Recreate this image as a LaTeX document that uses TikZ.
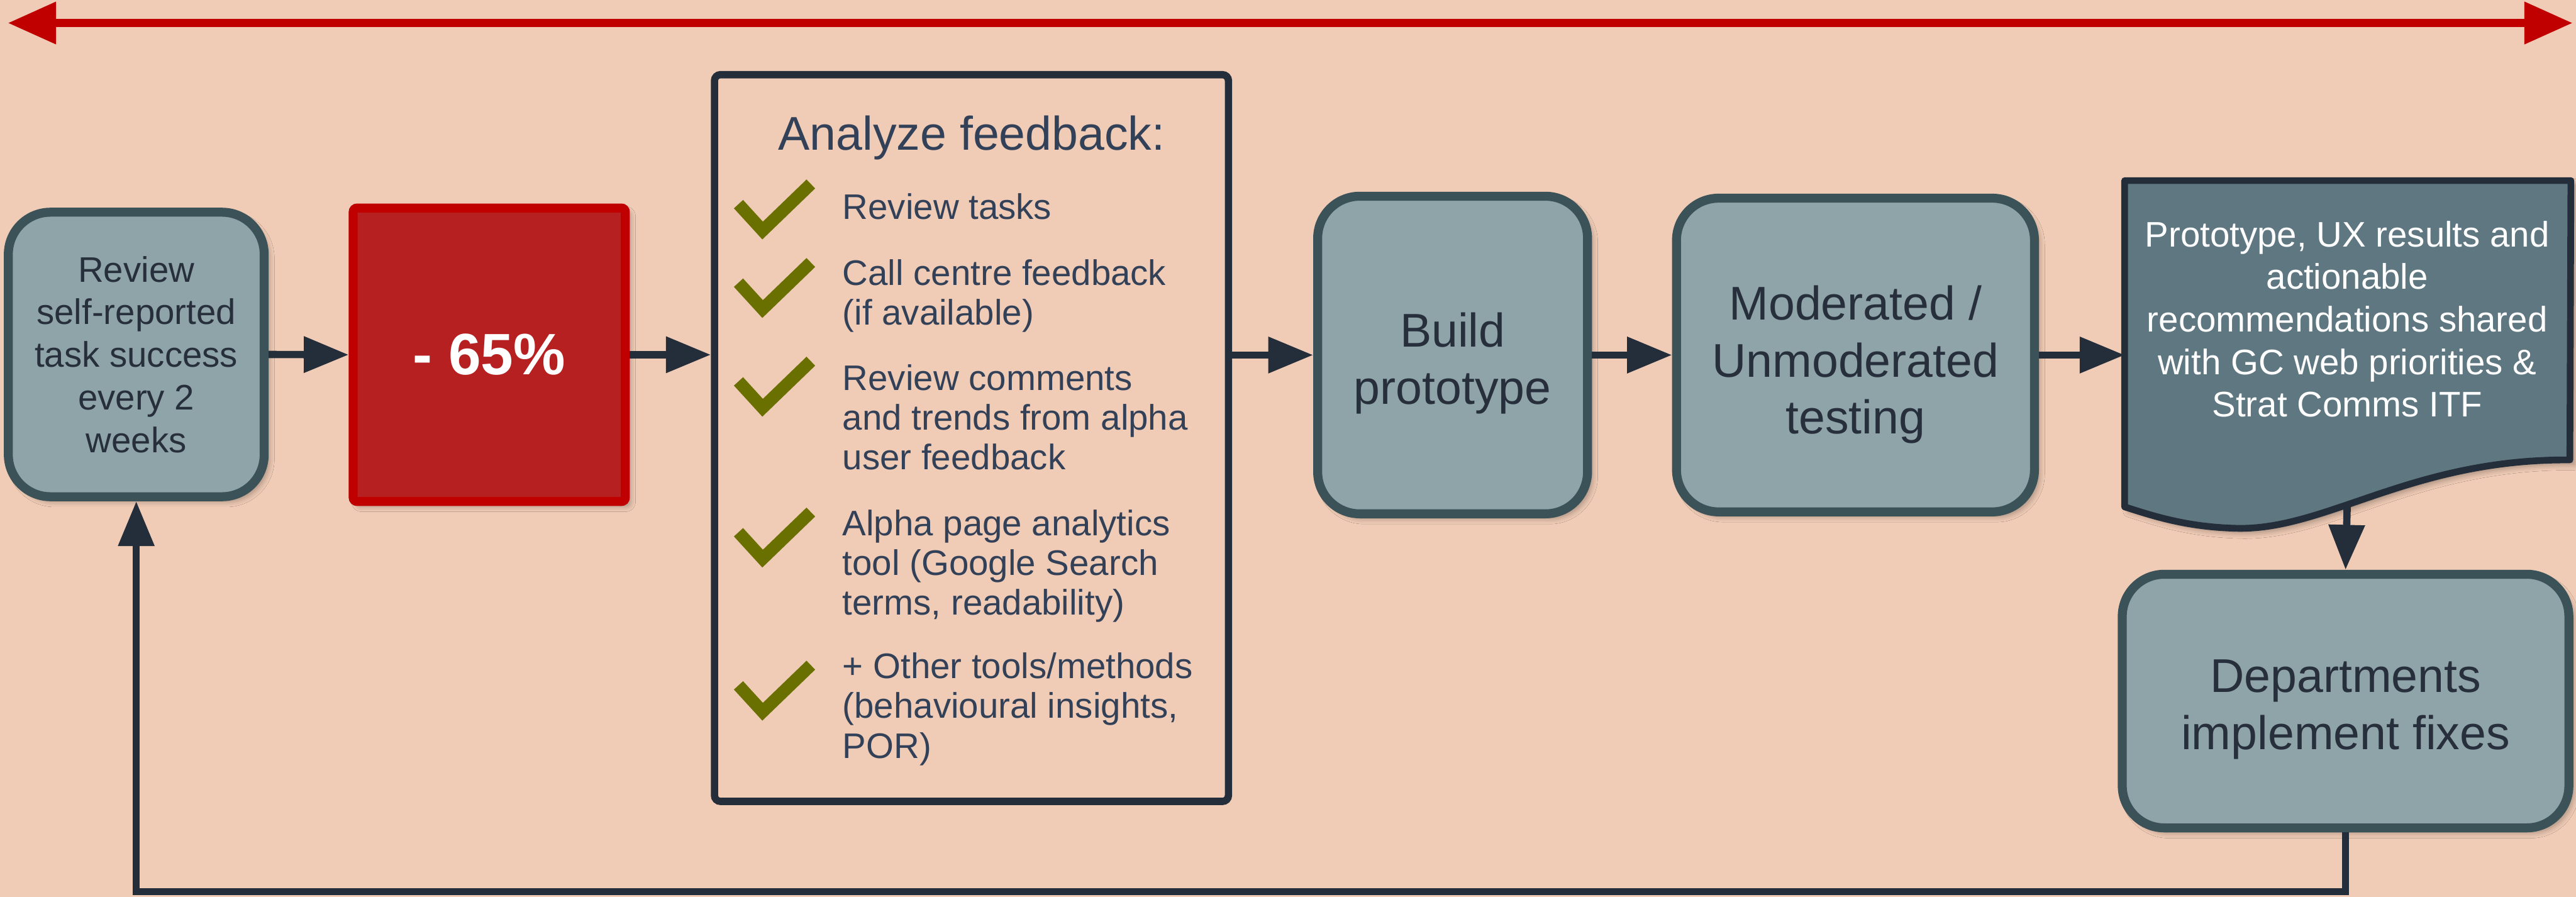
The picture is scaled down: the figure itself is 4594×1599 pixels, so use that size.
\documentclass[tikz,border=0pt]{standalone}
\usepackage{fontspec}
\setmainfont{Liberation Sans}
\usetikzlibrary{arrows.meta,shadows.blur}

\definecolor{bgpeach}{HTML}{F0CCB6}
\definecolor{stepfill}{HTML}{8FA4A8}
\definecolor{stepline}{HTML}{3C5259}
\definecolor{steptext}{HTML}{262F3B}
\definecolor{ink}{HTML}{242E3B}
\definecolor{listtext}{HTML}{334158}
\definecolor{alertfill}{HTML}{B72020}
\definecolor{alertline}{HTML}{C00000}
\definecolor{tickgreen}{HTML}{6A7000}
\definecolor{docfill}{HTML}{5F7781}

\tikzset{
  softshadow/.style={blur shadow={shadow xshift=2.2pt, shadow yshift=-2.2pt,
      shadow blur radius=3pt, shadow opacity=35}},
  stepbox/.style={draw=stepline, fill=stepfill, line width=4.55pt,
      rounded corners=0.75cm, align=center, text=steptext, inner sep=0pt, softshadow},
  steplabel/.style={align=center, text=steptext, inner sep=0pt,
      font=\fontsize{24}{29}\selectfont},
  smalltext/.style={font=\fontsize{18}{21.6}\selectfont},
  listitem/.style={anchor=north west, inner sep=0pt, align=left, text=listtext,
      font=\fontsize{18}{20.2}\selectfont},
  conn/.style={draw=ink, line width=3.7pt, -{Triangle[length=0.8cm,width=0.62cm]}},
  tickmark/.pic={\draw[tickgreen, line width=6.3pt, line join=miter, line cap=butt]
      (10,42) -- (53,89) -- (139,6);}
}

\begin{document}
\begin{tikzpicture}[x=0.01cm, y=-0.01cm]
  % canvas
  \fill[bgpeach] (0,0) rectangle (4594,1599);
  \useasboundingbox (0,0) rectangle (4594,1599);

  % time span arrow along the top
  \coordinate (spanL) at (14,41);
  \coordinate (spanR) at (4588,41);
  \draw[alertline, line width=4.27pt,
        {Triangle[length=0.86cm,width=0.72cm]}-{Triangle[length=0.86cm,width=0.72cm]}]
        (spanL) -- (spanR);

  % process steps
  \node[stepbox, smalltext, minimum width=4.56cm, minimum height=5.07cm] (review)
    at (243,632) {Review\\self-reported\\task success\\every 2\\weeks};

  \node[draw=alertline, fill=alertfill, line width=4.55pt, rounded corners=2pt,
        minimum width=4.85cm, minimum height=5.23cm, inner sep=0pt, softshadow,
        text=white, font=\fontsize{29.6}{34}\selectfont\bfseries] (drop)
    at (872.5,632.5) {- 65\%};

  \node[draw=ink, line width=3.7pt, rounded corners=3pt,
        minimum width=9.16cm, minimum height=12.95cm, inner sep=0pt] (analyze)
    at (1732.5,781) {};

  \node[stepbox, minimum width=4.81cm, minimum height=5.66cm] (build) at (2590.5,633) {};
  \node[steplabel] (buildlabel) at (2590.5,648) {Build\\prototype};

  \node[stepbox, minimum width=6.38cm, minimum height=5.59cm] (testing) at (3309,633) {};
  \node[steplabel] (testinglabel) at (3309,650) {Moderated /\\Unmoderated\\testing};

  % shared results: document shape with a wavy lower edge
  \node[minimum width=7.94cm, minimum height=5.8cm, inner sep=0pt, anchor=north west] (doc)
    at (3789,322) {};
  \coordinate (docR) at (4583,820);
  \path[fill=docfill, draw=ink, line width=3.4pt, line join=round, softshadow]
    (doc.north west) -- (doc.north east) -- (docR)
    .. controls (4300,818) and (4150,945) .. (3990,942)
    .. controls (3900,940) and (3840,920) .. (doc.south west) -- cycle;
  \node[smalltext, text=white, align=center, inner sep=0pt] (doctext) at (4186,569)
    {Prototype, UX results and\\actionable\\recommendations shared\\with GC web priorities \&\\Strat Comms ITF};
  \coordinate (docB) at (4186,898);

  \node[stepbox, minimum width=7.96cm, minimum height=4.52cm] (fixes) at (4183,1250) {};
  \node[steplabel] (fixeslabel) at (4183,1265) {Departments\\implement fixes};

  % feedback analysis checklist
  \node[anchor=base, inner sep=0pt, text=listtext, font=\fontsize{24}{29}\selectfont] (title)
    at (1733,268) {Analyze feedback:};
  \pic at (1307,322) {tickmark};
  \node[listitem] (itemA) at (1502,344) {Review tasks};
  \pic at (1307,462) {tickmark};
  \node[listitem] (itemB) at (1502,462) {Call centre feedback\\(if available)};
  \pic at (1307,638) {tickmark};
  \node[listitem] (itemC) at (1502,649) {Review comments\\and trends from alpha\\user feedback};
  \pic at (1307,907) {tickmark};
  \node[listitem] (itemD) at (1502,908) {Alpha page analytics\\tool (Google Search\\terms, readability)};
  \pic at (1307,1180) {tickmark};
  \node[listitem] (itemE) at (1502,1163) {+ Other tools/methods\\(behavioural insights,\\POR)};

  % connectors
  \draw[conn] (review.east) -- (drop.west);
  \draw[conn] (drop.east) -- (drop.east -| analyze.west);
  \draw[conn] (analyze.east |- build.west) -- (build.west);
  \draw[conn] (build.east) -- (testing.west);
  \draw[conn] (testing.east) -- (testing.east -| doc.west);
  \draw[conn] (docB) -- (fixes.north);
  \coordinate (loop) at (2000,1590);
  \draw[conn] (fixes.south) |- (loop) -| (review.south);
\end{tikzpicture}
\end{document}
